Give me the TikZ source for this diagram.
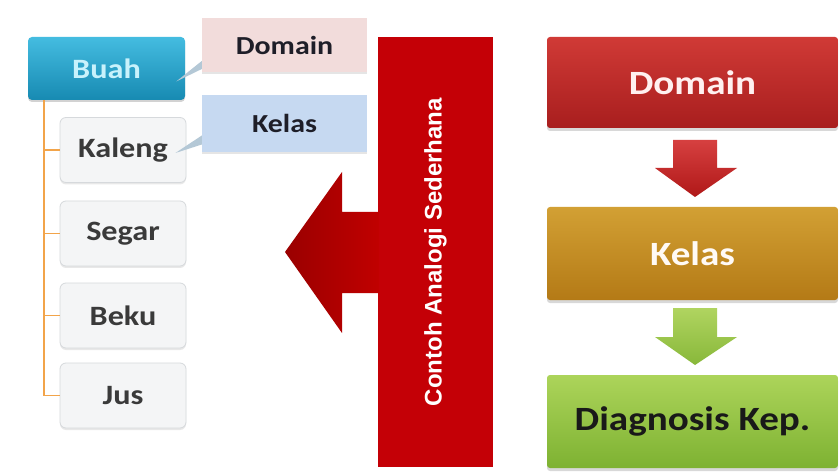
\documentclass[tikz,border=0pt]{standalone}
\usepackage{fontspec}
\setmainfont{Carlito}[FakeStretch=1.15]
\newfontfamily\vfont{Liberation Sans}
\usetikzlibrary{calc,shadows}
\definecolor{leaffill}{HTML}{F4F5F6}
\definecolor{leafborder}{HTML}{D6D9DC}
\definecolor{leaftext}{HTML}{3A3A3A}
\definecolor{buahtop}{HTML}{44BCE0}
\definecolor{buahbot}{HTML}{178AB2}
\definecolor{buahtext}{HTML}{C8F2FC}
\definecolor{domfill}{HTML}{F2DCDB}
\definecolor{kelfill}{HTML}{C6D9F1}
\definecolor{calltext}{HTML}{1E1E28}
\definecolor{ptrcol}{HTML}{B4C8D6}
\definecolor{treecol}{HTML}{F2A44A}
\definecolor{barred}{HTML}{C40006}
\definecolor{arrowdark}{HTML}{9A0000}
\definecolor{arrowmid}{HTML}{C00000}
\definecolor{redtop}{HTML}{D03A36}
\definecolor{redbot}{HTML}{A81E1E}
\definecolor{goldtop}{HTML}{D2A034}
\definecolor{goldbot}{HTML}{B47A16}
\definecolor{greentop}{HTML}{ACD45A}
\definecolor{greenbot}{HTML}{7EB232}
\definecolor{rarrtop}{HTML}{D64040}
\definecolor{rarrbot}{HTML}{B01818}
\definecolor{garrtop}{HTML}{B0D460}
\definecolor{garrbot}{HTML}{88B83A}
\begin{document}
\begin{tikzpicture}[x=1pt,y=-1pt,
  leaf/.style={draw=leafborder, line width=0.8pt, fill=leaffill, rounded corners=6pt,
    minimum width=126pt, minimum height=65pt, inner sep=0pt,
    font=\fontsize{28}{30}\selectfont\bfseries, text=leaftext,
    drop shadow={opacity=0.18, shadow xshift=0pt, shadow yshift=-2pt}},
  callout/.style={minimum width=165pt, inner sep=0pt,
    font=\fontsize{26}{28}\selectfont\bfseries, text=calltext,
    drop shadow={opacity=0.2, shadow xshift=0pt, shadow yshift=-2pt}},
  bigbox/.style={rounded corners=3pt, minimum width=291pt, minimum height=92pt, inner sep=0pt,
    font=\fontsize{34}{36}\selectfont\bfseries,
    drop shadow={opacity=0.3, shadow xshift=0pt, shadow yshift=-3pt}},
  tree/.style={draw=treecol, line width=1.6pt},
  ptr/.style={fill=ptrcol}]
\useasboundingbox (0,0) rectangle (839,476);
\fill[white] (0,0) rectangle (839,476);

% left tree
\node[leaf] (kaleng) at (123,150) {Kaleng};
\node[leaf] (segar) at (123,233.5) {Segar};
\node[leaf] (beku) at (123,315.5) {Beku};
\node[leaf] (jus) at (123,395.5) {Jus};
\node[rounded corners=4pt, top color=buahtop, bottom color=buahbot, minimum width=157pt,
  minimum height=63pt, inner sep=0pt, font=\fontsize{28}{30}\selectfont\bfseries, text=buahtext,
  drop shadow={opacity=0.35, shadow xshift=0pt, shadow yshift=-2pt}] (buah) at (106.5,68.5) {Buah};
\foreach \n in {kaleng,segar,beku,jus}
  \draw[tree] ($(buah.south west)+(16,0)$) |- (\n.west);

% callouts
\node[callout, fill=domfill, minimum height=54pt] (dom) at (284.5,45) {Domain};
\node[callout, fill=kelfill, minimum height=57pt] (kelc) at (284.5,123.5) {Kelas};
\fill[ptr] ($(dom.west)+(0,16)$) -- ($(buah.east)+(-9,13)$) -- ($(dom.west)+(0,24)$) -- cycle;
\fill[ptr] ($(kelc.west)+(0,12)$) -- ($(kaleng.east)+(-11,3)$) -- ($(kelc.west)+(0,21)$) -- cycle;

% red bar and arrow
\node[rotate=90, fill=barred, minimum width=430pt, minimum height=115pt, inner sep=0pt,
  text=white, font=\vfont\fontsize{24}{26}\selectfont\bfseries] (bar) at (435.5,252)
  {Contoh Analogi Sederhana};
\shade[left color=arrowdark, right color=arrowmid]
  (379,212) -- (342,212) -- (342,172) -- (285,252) -- (342,333) -- (342,293) -- (379,293) -- cycle;

% right flow
\node[bigbox, top color=redtop, bottom color=redbot, text=white!94!red, minimum height=91pt] (rd) at (692.5,82.5) {Domain};
\node[bigbox, top color=goldtop, bottom color=goldbot, text=white!96!orange, minimum height=93pt] (rk) at (692.5,253.5) {Kelas};
\node[bigbox, top color=greentop, bottom color=greenbot, text=black!90, minimum height=93pt] (rg) at (692.5,421.5) {Diagnosis Kep.};
\shade[top color=rarrtop, bottom color=rarrbot]
  (673,140) -- (717,140) -- (717,168) -- (737,168) -- (695,197) -- (655,168) -- (673,168) -- cycle;
\shade[top color=garrtop, bottom color=garrbot]
  (673,308) -- (717,308) -- (717,337) -- (737,337) -- (695,365) -- (655,337) -- (673,337) -- cycle;
\end{tikzpicture}
\end{document}
